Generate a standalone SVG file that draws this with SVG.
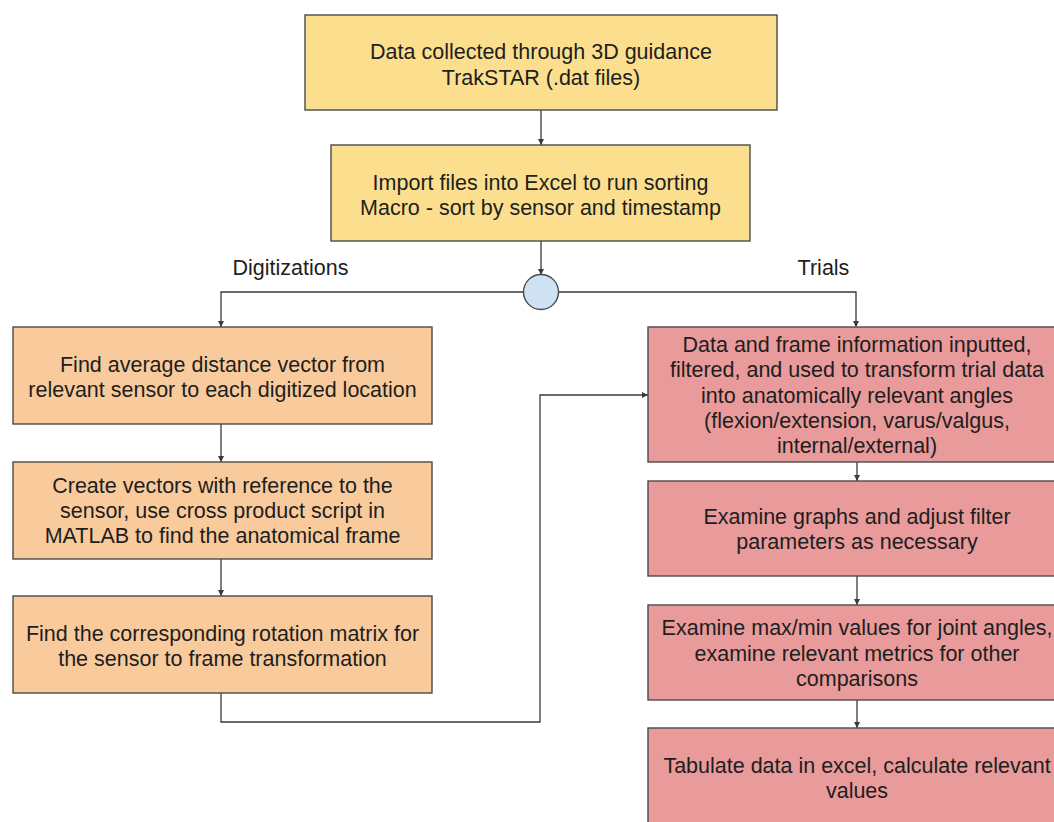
<svg xmlns="http://www.w3.org/2000/svg" width="1054" height="822" viewBox="0 0 1054 822">
<defs>
<style>
.box{stroke:#4a4a4a;stroke-width:1.4}
.y{fill:#fbdf8f}
.o{fill:#f9cb9c}
.r{fill:#e99a9a}
text{font-family:"Liberation Sans",Arial,sans-serif;font-size:21.5px;fill:#1e1e1e;text-anchor:middle}
.c{fill:none;stroke:#3a3a3a;stroke-width:1.3}
</style>
<marker id="ah" viewBox="0 0 8 8" refX="8" refY="4" markerWidth="6" markerHeight="6" orient="auto" markerUnits="userSpaceOnUse">
<path d="M0,0 L8,4 L0,8 z" fill="#3a3a3a"/>
</marker>
</defs>
<rect width="1054" height="822" fill="#ffffff"/>
<g id="connectors">
<path class="c" d="M541,110 V145" marker-end="url(#ah)"/>
<path class="c" d="M541,241 V275" marker-end="url(#ah)"/>
<path class="c" d="M523,292 H221 V327" marker-end="url(#ah)"/>
<path class="c" d="M559,292 H856 V327" marker-end="url(#ah)"/>
<path class="c" d="M221,424 V462" marker-end="url(#ah)"/>
<path class="c" d="M221,559 V596" marker-end="url(#ah)"/>
<path class="c" d="M221,693 V722 H540 V395 H648" marker-end="url(#ah)"/>
<path class="c" d="M857,462 V481" marker-end="url(#ah)"/>
<path class="c" d="M857,576 V605" marker-end="url(#ah)"/>
<path class="c" d="M857,700 V728" marker-end="url(#ah)"/>
</g>
<g id="label-digitizations"><text x="290.5" y="275">Digitizations</text></g>
<g id="label-trials"><text x="823.5" y="275">Trials</text></g>
<g id="n1">
<rect class="box y" x="305" y="15" width="472" height="95"/>
<text x="541" y="59">Data collected through 3D guidance</text>
<text x="541" y="85">TrakSTAR (.dat files)</text>
</g>
<g id="n2">
<rect class="box y" x="331" y="145" width="419" height="96"/>
<text x="540.5" y="190">Import files into Excel to run sorting</text>
<text x="540.5" y="215">Macro - sort by sensor and timestamp</text>
</g>
<g id="split">
<ellipse cx="541" cy="292" rx="17.5" ry="17.5" fill="#cfe2f3" stroke="#4a4a4a" stroke-width="1.4"/>
</g>
<g id="l1">
<rect class="box o" x="13" y="327" width="419" height="97"/>
<text x="222.5" y="372">Find average distance vector from</text>
<text x="222.5" y="397">relevant sensor to each digitized location</text>
</g>
<g id="l2">
<rect class="box o" x="13" y="462" width="419" height="97"/>
<text x="222.5" y="493">Create vectors with reference to the</text>
<text x="222.5" y="518">sensor, use cross product script in</text>
<text x="222.5" y="543">MATLAB to find the anatomical frame</text>
</g>
<g id="l3">
<rect class="box o" x="13" y="596" width="419" height="97"/>
<text x="222.5" y="641">Find the corresponding rotation matrix for</text>
<text x="222.5" y="666">the sensor to frame transformation</text>
</g>
<g id="r1">
<rect class="box r" x="648" y="327" width="418" height="135"/>
<text x="857" y="352">Data and frame information inputted,</text>
<text x="857" y="377">filtered, and used to transform trial data</text>
<text x="857" y="403">into anatomically relevant angles</text>
<text x="857" y="428">(flexion/extension, varus/valgus,</text>
<text x="857" y="453">internal/external)</text>
</g>
<g id="r2">
<rect class="box r" x="648" y="481" width="418" height="95"/>
<text x="857" y="524">Examine graphs and adjust filter</text>
<text x="857" y="549">parameters as necessary</text>
</g>
<g id="r3">
<rect class="box r" x="648" y="605" width="418" height="95"/>
<text x="857" y="635">Examine max/min values for joint angles,</text>
<text x="857" y="661">examine relevant metrics for other</text>
<text x="857" y="686">comparisons</text>
</g>
<g id="r4">
<rect class="box r" x="648" y="728" width="418" height="110"/>
<text x="857" y="773">Tabulate data in excel, calculate relevant</text>
<text x="857" y="798">values</text>
</g>
</svg>
